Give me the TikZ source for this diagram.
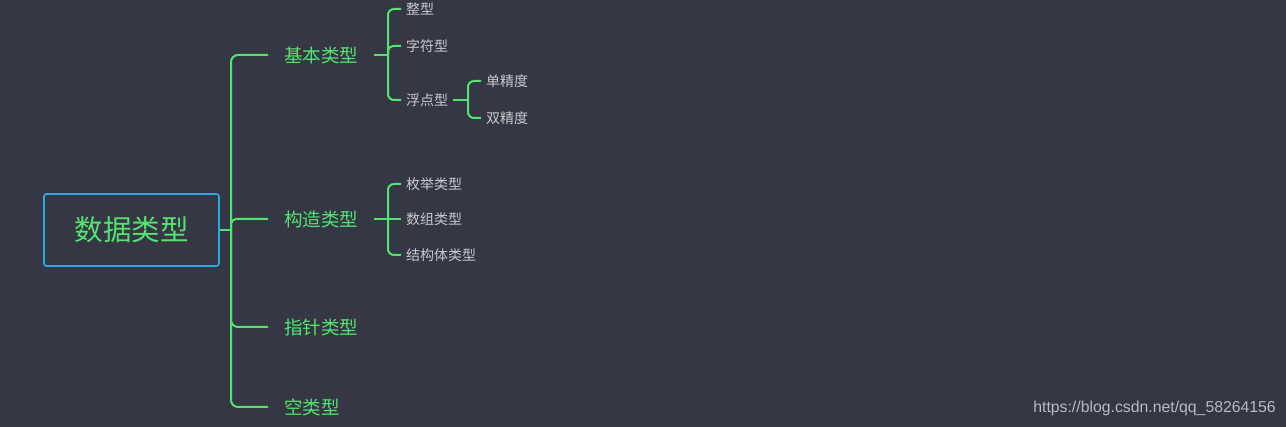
\documentclass[tikz,border=0pt]{standalone}
\usepackage{fontspec}
\newfontfamily\cjk{Noto Sans CJK SC}
\newfontfamily\wm{Liberation Sans}
\definecolor{bgc}{RGB}{53,55,69}
\definecolor{grn}{RGB}{82,228,110}
\definecolor{blu}{RGB}{41,171,226}
\definecolor{gry}{RGB}{200,200,205}
\definecolor{wmc}{RGB}{185,185,190}
\begin{document}
\begin{tikzpicture}[x=1pt,y=1pt,
  conn/.style={draw=grn,line width=2pt},
  rootbox/.style={draw=blu,line width=1.6pt,rounded corners=2.5pt,minimum width=175pt,minimum height=72pt,inner sep=0pt,text=grn,font=\cjk\fontsize{28.5}{32}\selectfont},
  lvone/.style={anchor=west,inner xsep=16pt,inner ysep=0pt,text=grn,font=\cjk\fontsize{18.5}{22}\selectfont},
  lvtwo/.style={anchor=west,inner xsep=5pt,inner ysep=0pt,text=gry,font=\cjk\fontsize{14}{16}\selectfont}]
\fill[bgc] (0,0) rectangle (1286,-427);
\useasboundingbox (0,0) rectangle (1286,-427);
\node[rootbox] (root) at (131.5,-230) {数据类型};
\node[lvone] (b1) at (268,-55) {基本类型};
\node[lvone] (b2) at (268,-219) {构造类型};
\node[lvone] (b3) at (268,-327) {指针类型};
\node[lvone] (b4) at (268,-407) {空类型};
\node[lvtwo] (c1) at (401,-9) {整型};
\node[lvtwo] (c2) at (401,-46) {字符型};
\node[lvtwo] (c3) at (401,-100) {浮点型};
\node[lvtwo] (d1) at (481,-81) {单精度};
\node[lvtwo] (d2) at (481,-118) {双精度};
\node[lvtwo] (e1) at (401,-184) {枚举类型};
\node[lvtwo] (e2) at (401,-219) {数组类型};
\node[lvtwo] (e3) at (401,-255) {结构体类型};
\coordinate (j0) at (231,-230);
\coordinate (j1) at (388,-55);
\coordinate (j2) at (468,-100);
\coordinate (j3) at (388,-219);
\draw[conn] (root.east) -- (j0);
\draw[conn,rounded corners=7pt] (b1.west) -| (j0) |- (b4.west);
\draw[conn,rounded corners=5pt] (j0) |- (b2.west);
\draw[conn,rounded corners=7pt] (j0) |- (b3.west);
\draw[conn] (b1.east) -- (j1);
\draw[conn,rounded corners=6pt] (c1.west) -| (j1) |- (c3.west);
\draw[conn,rounded corners=5pt] (j1) |- (c2.west);
\draw[conn] (c3.east) -- (j2);
\draw[conn,rounded corners=6pt] (d1.west) -| (j2) |- (d2.west);
\draw[conn] (b2.east) -- (j3);
\draw[conn,rounded corners=6pt] (e1.west) -| (j3) |- (e3.west);
\draw[conn] (j3) -- (e2.west);
\node[anchor=east,inner sep=0pt,text=wmc,font=\wm\fontsize{15.8}{18}\selectfont] (wm) at (1276,-408) {https://blog.csdn.net/qq\_58264156};
\end{tikzpicture}
\end{document}
